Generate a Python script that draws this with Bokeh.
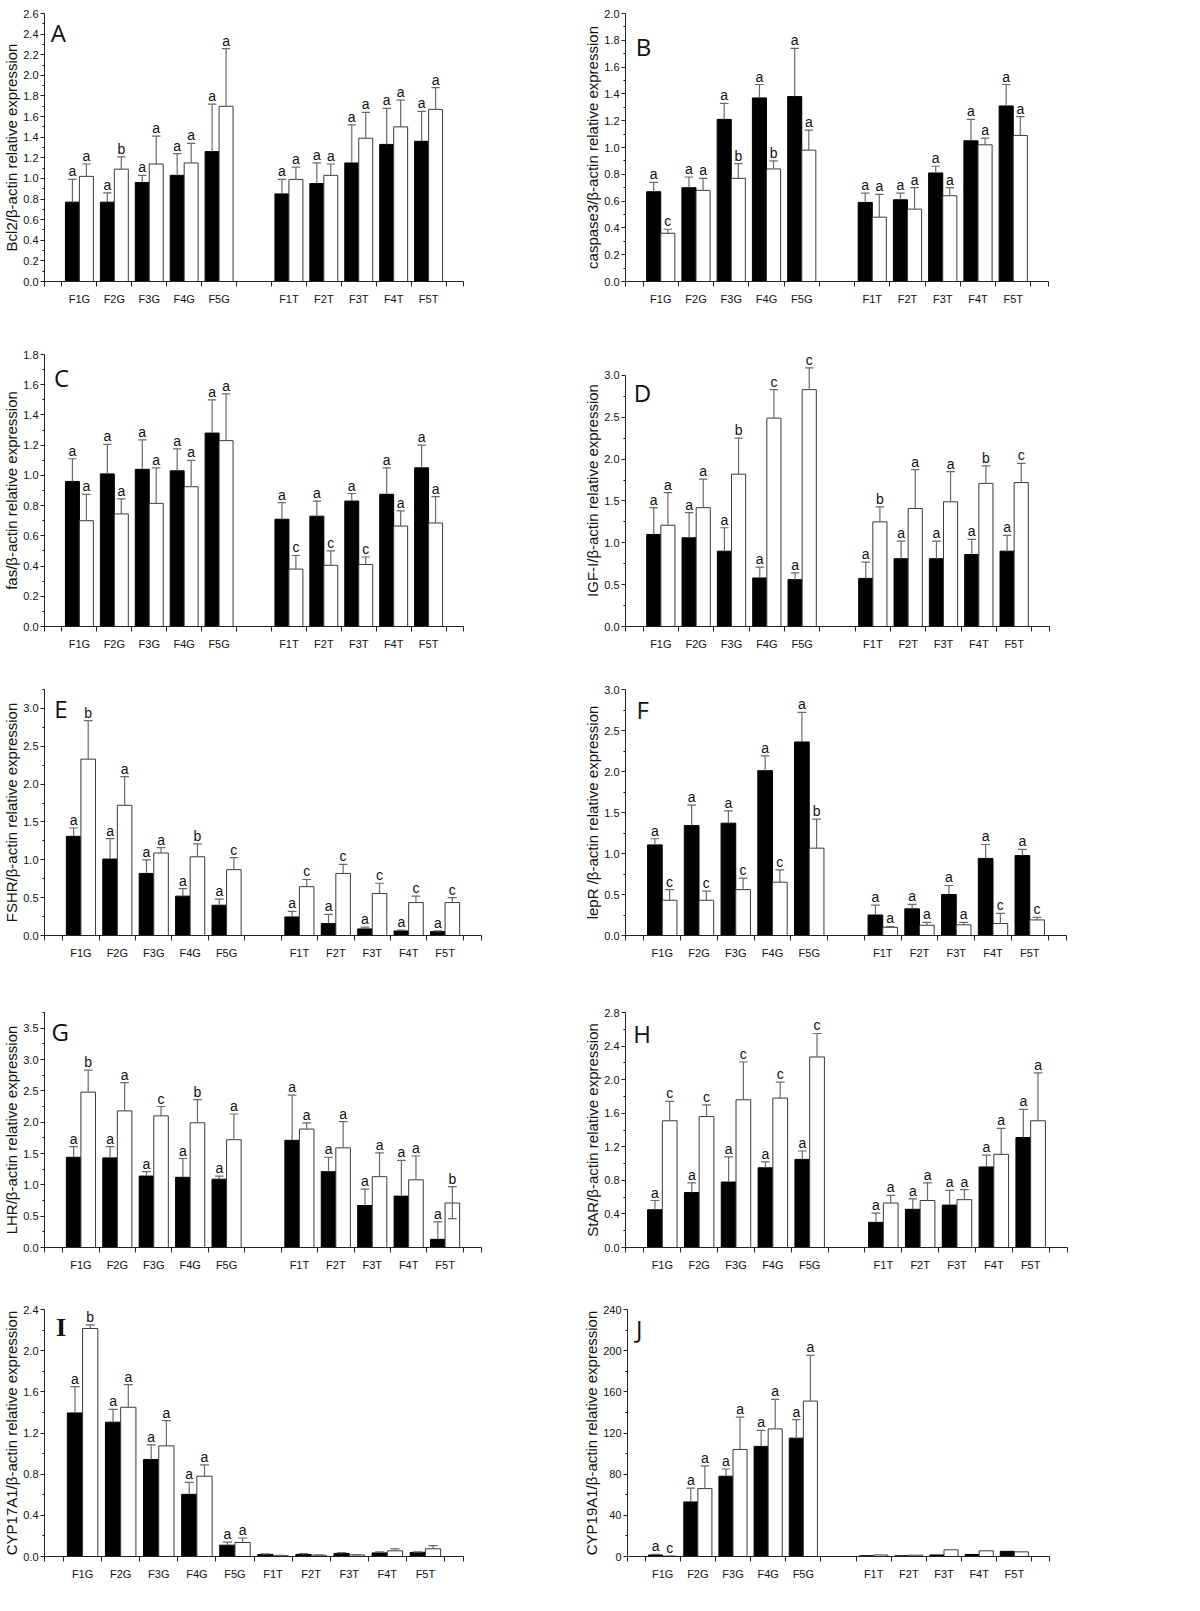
from bokeh.plotting import figure
from bokeh.layouts import column, row
from bokeh.models import FixedTicker, Range1d, ColumnDataSource, LabelSet, Label, NumeralTickFormatter
from bokeh.core.properties import value
from bokeh.embed import file_html
from bokeh.resources import INLINE

groups = ["F1G", "F2G", "F3G", "F4G", "F5G", "F1T", "F2T", "F3T", "F4T", "F5T"]
pos_gap = [0, 1, 2, 3, 4, 6, 7, 8, 9, 10]
pos_nogap = [0, 1, 2, 3, 4, 5, 6, 7, 8, 9]

# ---- A: Bcl2 ----
A_black = [0.77, 0.77, 0.96, 1.03, 1.26, 0.85, 0.95, 1.15, 1.33, 1.36]
A_black_top = [0.99, 0.86, 1.03, 1.24, 1.72, 0.99, 1.15, 1.52, 1.68, 1.65]
A_white = [1.02, 1.09, 1.14, 1.15, 1.70, 0.99, 1.03, 1.39, 1.50, 1.67]
A_white_top = [1.14, 1.21, 1.41, 1.34, 2.26, 1.11, 1.14, 1.64, 1.76, 1.88]
A_black_sig = ["a", "a", "a", "a", "a", "a", "a", "a", "a", "a"]
A_white_sig = ["a", "b", "a", "a", "a", "a", "a", "a", "a", "a"]

# ---- B: caspase3 ----
B_black = [0.67, 0.70, 1.21, 1.37, 1.38, 0.59, 0.61, 0.81, 1.05, 1.31]
B_black_top = [0.74, 0.78, 1.33, 1.47, 1.74, 0.66, 0.66, 0.86, 1.21, 1.47]
B_white = [0.36, 0.68, 0.77, 0.84, 0.98, 0.48, 0.54, 0.64, 1.02, 1.09]
B_white_top = [0.39, 0.77, 0.88, 0.90, 1.13, 0.65, 0.70, 0.70, 1.07, 1.23]
B_black_sig = ["a", "a", "a", "a", "a", "a", "a", "a", "a", "a"]
B_white_sig = ["c", "a", "b", "b", "a", "a", "a", "a", "a", "a"]

# ---- C: fas ----
C_black = [0.96, 1.01, 1.04, 1.03, 1.28, 0.71, 0.73, 0.83, 0.875, 1.05]
C_black_top = [1.11, 1.205, 1.235, 1.175, 1.50, 0.82, 0.83, 0.88, 1.05, 1.20]
C_white = [0.70, 0.745, 0.815, 0.925, 1.23, 0.38, 0.405, 0.41, 0.665, 0.685]
C_white_top = [0.875, 0.845, 1.05, 1.10, 1.54, 0.47, 0.50, 0.46, 0.765, 0.86]
C_black_sig = ["a", "a", "a", "a", "a", "a", "a", "a", "a", "a"]
C_white_sig = ["a", "a", "a", "a", "a", "c", "c", "c", "a", "a"]

# ---- D: IGF-I ----
D_black = [1.10, 1.06, 0.90, 0.58, 0.56, 0.575, 0.81, 0.81, 0.86, 0.90]
D_black_top = [1.42, 1.36, 1.18, 0.71, 0.64, 0.77, 1.02, 1.02, 1.04, 1.09]
D_white = [1.21, 1.42, 1.82, 2.49, 2.83, 1.25, 1.41, 1.49, 1.71, 1.72]
D_white_top = [1.60, 1.76, 2.25, 2.83, 3.09, 1.43, 1.875, 1.85, 1.92, 1.95]
D_black_sig = ["a", "a", "a", "a", "a", "a", "a", "a", "a", "a"]
D_white_sig = ["a", "a", "b", "c", "c", "b", "a", "a", "b", "c"]

# ---- E: FSHR ----
E_black = [1.31, 1.01, 0.82, 0.52, 0.40, 0.245, 0.157, 0.087, 0.06, 0.052]
E_black_top = [1.42, 1.28, 1.00, 0.62, 0.48, 0.32, 0.28, 0.11, 0.07, 0.06]
E_white = [2.33, 1.72, 1.09, 1.04, 0.87, 0.645, 0.82, 0.555, 0.435, 0.435]
E_white_top = [2.84, 2.10, 1.16, 1.21, 1.03, 0.74, 0.94, 0.69, 0.52, 0.50]
E_black_sig = ["a", "a", "a", "a", "a", "a", "a", "a", "a", "a"]
E_white_sig = ["b", "a", "a", "b", "c", "c", "c", "c", "c", "c"]

# ---- F: lepR ----
F_black = [1.105, 1.34, 1.37, 2.01, 2.36, 0.25, 0.325, 0.50, 0.94, 0.975]
F_black_top = [1.18, 1.59, 1.52, 2.19, 2.72, 0.37, 0.38, 0.61, 1.11, 1.05]
F_white = [0.43, 0.43, 0.56, 0.65, 1.065, 0.10, 0.125, 0.13, 0.146, 0.19]
F_white_top = [0.56, 0.54, 0.70, 0.80, 1.42, 0.11, 0.16, 0.16, 0.27, 0.22]
F_black_sig = ["a", "a", "a", "a", "a", "a", "a", "a", "a", "a"]
F_white_sig = ["c", "c", "c", "c", "b", "a", "a", "a", "c", "c"]

# ---- G: LHR ----
G_black = [1.44, 1.43, 1.14, 1.12, 1.09, 1.71, 1.21, 0.67, 0.82, 0.13]
G_black_top = [1.61, 1.61, 1.21, 1.42, 1.14, 2.43, 1.44, 0.93, 1.39, 0.41]
G_white = [2.48, 2.18, 2.10, 1.99, 1.72, 1.89, 1.59, 1.13, 1.08, 0.71]
G_white_top = [2.83, 2.63, 2.25, 2.36, 2.13, 1.99, 2.01, 1.51, 1.46, 0.97]
G_white_bottom = [2.48, 2.18, 2.10, 1.99, 1.72, 1.89, 1.59, 1.13, 1.08, 0.46]
G_black_sig = ["a", "a", "a", "a", "a", "a", "a", "a", "a", "a"]
G_white_sig = ["b", "a", "c", "b", "a", "a", "a", "a", "a", "b"]

# ---- H: StAR ----
H_black = [0.45, 0.655, 0.78, 0.95, 1.05, 0.30, 0.455, 0.505, 0.96, 1.31]
H_black_top = [0.56, 0.77, 1.08, 1.02, 1.15, 0.41, 0.58, 0.68, 1.10, 1.645]
H_white = [1.51, 1.56, 1.76, 1.78, 2.27, 0.53, 0.56, 0.57, 1.11, 1.51]
H_white_top = [1.74, 1.70, 2.21, 1.97, 2.55, 0.62, 0.77, 0.69, 1.42, 2.08]
H_black_sig = ["a", "a", "a", "a", "a", "a", "a", "a", "a", "a"]
H_white_sig = ["c", "c", "c", "c", "c", "a", "a", "a", "a", "a"]

# ---- I: CYP17A1 ----
I_black = [1.395, 1.305, 0.943, 0.604, 0.11, 0.02, 0.02, 0.03, 0.035, 0.04]
I_black_top = [1.65, 1.43, 1.085, 0.72, 0.14, 0.025, 0.028, 0.038, 0.045, 0.045]
I_white = [2.215, 1.45, 1.075, 0.78, 0.136, 0.008, 0.012, 0.015, 0.055, 0.075]
I_white_top = [2.25, 1.67, 1.32, 0.89, 0.18, 0.01, 0.015, 0.018, 0.075, 0.105]
I_black_sig = ["a", "a", "a", "a", "a", "", "", "", "", ""]
I_white_sig = ["b", "a", "a", "a", "a", "", "", "", "", ""]

# ---- J: CYP19A1 ----
J_black = [1.5, 53, 78, 107, 115, 0.8, 0.7, 1.5, 2.0, 5.0]
J_black_top = [2.0, 66.5, 85, 122.5, 133, 0.8, 0.7, 1.5, 2.0, 5.0]
J_white = [0.3, 66, 104, 124, 151, 1.5, 1.2, 6.5, 5.5, 4.5]
J_white_top = [0.5, 88, 135.5, 152.6, 195.5, 1.5, 1.2, 6.5, 5.5, 4.5]
J_black_sig = ["a", "a", "a", "a", "a", "", "", "", "", ""]
J_white_sig = ["c", "a", "a", "a", "a", "", "", "", "", ""]

FONT = "Liberation Sans"


def whiskers(p, xs, vals, tops, color, bottoms=None):
    x0, y0, y1 = [], [], []
    cx0, cx1, cy = [], [], []
    for xv, v, t in zip(xs, vals, tops):
        if t > v:
            x0.append(xv); y0.append(v); y1.append(t)
            cx0.append(xv - 0.12); cx1.append(xv + 0.12); cy.append(t)
    if bottoms is not None:
        for xv, v, b in zip(xs, vals, bottoms):
            if b < v:
                x0.append(xv); y0.append(b); y1.append(v)
                cx0.append(xv - 0.12); cx1.append(xv + 0.12); cy.append(b)
    p.segment(x0=x0, y0=y0, x1=x0, y1=y1, line_color=color, line_width=1.2)
    p.segment(x0=cx0, y0=cy, x1=cx1, y1=cy, line_color=color, line_width=1.2)


def sig_labels(p, xs, tops, sigs):
    xx, yy, tt = [], [], []
    for xv, t, s in zip(xs, tops, sigs):
        if s:
            xx.append(xv); yy.append(t); tt.append(s)
    src = ColumnDataSource(dict(x=xx, y=yy, t=tt))
    p.add_layout(LabelSet(x="x", y="y", text="t", source=src, text_align="center",
                          text_baseline="alphabetic", y_offset=3,
                          text_font=value(FONT), text_font_size="14px", text_color="#111111"))


def panel(black, black_top, white, white_top, black_sig, white_sig, xpos, ylabel,
          ystep, ymajor_top, axis_top, yrange_end, yfmt, letter, letter_xy, size, borders,
          white_bottom=None, letter_font="Open Sans", letter_size="24px", letter_style="normal"):
    xend = xpos[-1] + 1
    w, h = size
    p = figure(width=w, height=h, x_range=Range1d(-1, xend), y_range=Range1d(0, yrange_end),
               output_backend="svg", toolbar_location=None,
               min_border_left=borders[0], min_border_right=borders[1],
               min_border_top=borders[2], min_border_bottom=borders[3])
    p.outline_line_color = None
    p.xgrid.visible = False
    p.ygrid.visible = False
    p.background_fill_color = "white"

    xb = [v - 0.2 for v in xpos]
    xw = [v + 0.2 for v in xpos]
    p.vbar(x=xb, top=black, width=0.4, bottom=0, fill_color="black", line_color="black", line_width=1)
    p.vbar(x=xw, top=white, width=0.4, bottom=0, fill_color="white", line_color="#3a3a3a", line_width=1)
    whiskers(p, xb, black, black_top, "#6a6a6a")
    whiskers(p, xw, white, white_top, "#6a6a6a", white_bottom)
    sig_labels(p, xb, black_top, black_sig)
    sig_labels(p, xw, white_top, white_sig)

    # x axis
    xminor = [-1.0] + [k + 0.5 for k in range(-1, int(xend))] + [float(xend)]
    p.xaxis.ticker = FixedTicker(ticks=xpos, minor_ticks=xminor)
    p.xaxis.major_label_overrides = {xv: g for xv, g in zip(xpos, groups)}
    p.xaxis.minor_tick_in = 0
    p.xaxis.minor_tick_out = 5
    p.xaxis.minor_tick_line_color = "#222222"
    p.xaxis.major_label_standoff = 5
    # y axis
    n = int(round(ymajor_top / ystep))
    yt = [round(k * ystep, 3) for k in range(n + 1)]
    ymin = [round((yt[k] + yt[k + 1]) / 2, 4) for k in range(n)]
    if axis_top > yt[-1] + 1e-9:
        ymin.append(axis_top)
    p.yaxis.ticker = FixedTicker(ticks=yt, minor_ticks=ymin)
    p.yaxis.bounds = (0, axis_top)
    p.yaxis.formatter = NumeralTickFormatter(format=yfmt)
    p.yaxis.major_tick_in = 0
    p.yaxis.major_tick_out = 4
    p.yaxis.minor_tick_in = 0
    p.yaxis.minor_tick_out = 2
    p.yaxis.major_label_standoff = 2
    p.yaxis.axis_label = ylabel
    p.yaxis.axis_label_standoff = 0
    p.yaxis.axis_label_text_font = FONT
    p.yaxis.axis_label_text_font_size = "15px"
    p.yaxis.axis_label_text_font_style = "normal"
    p.yaxis.axis_label_text_color = "#111111"
    for ax in (p.xaxis, p.yaxis):
        ax.axis_line_color = "#222222"
        ax.major_label_text_font = FONT
        ax.major_label_text_font_size = "11px"
        ax.major_label_text_color = "#111111"
    p.xaxis.major_tick_line_color = None
    p.yaxis.major_tick_line_color = "#222222"
    p.add_layout(Label(x=letter_xy[0], y=letter_xy[1], text=letter, text_font=letter_font,
                       text_font_size=letter_size, text_font_style=letter_style,
                       text_align="left", text_baseline="alphabetic", text_color="#111111"))
    return p


pA = panel(A_black, A_black_top, A_white, A_white_top, A_black_sig, A_white_sig, pos_gap,
           "Bcl2/\u03b2-actin relative expression", 0.2, 2.6, 2.6, 2.6, "0.0",
           "A", (-0.82, 2.415), (580, 310), (36, 117, 13, 29))
pB = panel(B_black, B_black_top, B_white, B_white_top, B_black_sig, B_white_sig, pos_gap,
           "caspase3/\u03b2-actin relative expression", 0.2, 2.0, 2.0, 2.0, "0.0",
           "B", (-0.71, 1.757), (604, 310), (45, 136, 9, 29))
pC = panel(C_black, C_black_top, C_white, C_white_top, C_black_sig, C_white_sig, pos_gap,
           "fas/\u03b2-actin relative expression", 0.2, 1.8, 1.8, 1.8, "0.0",
           "C", (-0.73, 1.648), (580, 344), (37, 117, 44, 27))
pD = panel(D_black, D_black_top, D_white, D_white_top, D_black_sig, D_white_sig, pos_gap,
           "IGF-I/\u03b2-actin relative expression", 0.5, 3.0, 3.0, 3.25, "0.0",
           "D", (-0.77, 2.80), (604, 344), (45, 135, 13, 28))
pE = panel(E_black, E_black_top, E_white, E_white_top, E_black_sig, E_white_sig, pos_gap,
           "FSHR/\u03b2-actin relative expression", 0.5, 3.0, 3.25, 3.25, "0.0",
           "E", (-0.73, 3.0), (580, 313), (36, 99, 35, 31))
pF = panel(F_black, F_black_top, F_white, F_white_top, F_black_sig, F_white_sig, pos_gap,
           "lepR /\u03b2-actin relative expression", 0.5, 3.0, 3.0, 3.0, "0.0",
           "F", (-0.70, 2.76), (604, 313), (45, 118, 35, 32))
pG = panel(G_black, G_black_top, G_white, G_white_top, G_black_sig, G_white_sig, pos_gap,
           "LHR/\u03b2-actin relative expression", 0.5, 3.5, 3.75, 3.75, "0.0",
           "G", (-0.81, 3.44), (580, 315), (36, 99, 45, 33), white_bottom=G_white_bottom)
pH = panel(H_black, H_black_top, H_white, H_white_top, H_black_sig, H_white_sig, pos_gap,
           "StAR/\u03b2-actin relative expression", 0.4, 2.8, 2.8, 2.8, "0.0",
           "H", (-0.79, 2.55), (604, 315), (45, 117, 30, 35))
pI = panel(I_black, I_black_top, I_white, I_white_top, I_black_sig, I_white_sig, pos_nogap,
           "CYP17A1/\u03b2-actin relative expression", 0.4, 2.4, 2.4, 2.4, "0.0",
           "I", (-0.70, 2.225), (580, 313), (36, 117, 27, 39),
           letter_font="Liberation Serif", letter_size="26px", letter_style="bold")
pJ = panel(J_black, J_black_top, J_white, J_white_top, J_black_sig, J_white_sig, pos_gap,
           "CYP19A1/\u03b2-actin relative expression", 40, 240, 240, 240, "0",
           "J", (-0.76, 221.6), (604, 313), (45, 135, 26, 39))

layout = column(row(pA, pB), row(pC, pD), row(pE, pF), row(pG, pH), row(pI, pJ))
open("out.html", "w").write(file_html(layout, INLINE))
